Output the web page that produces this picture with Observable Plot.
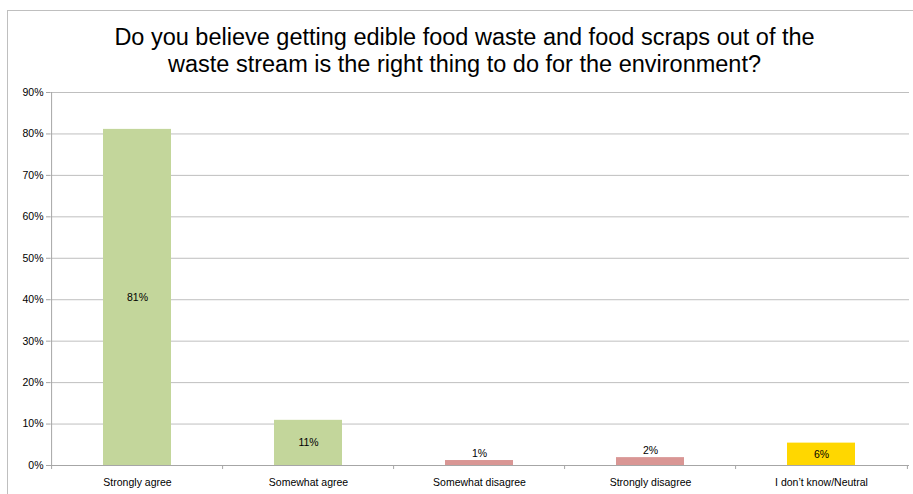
<!DOCTYPE html>
<html>
<head>
<meta charset="utf-8">
<script src="https://cdn.jsdelivr.net/npm/d3@7"></script>
<script src="https://cdn.jsdelivr.net/npm/@observablehq/plot@0.6"></script>
<style>
  html, body { margin: 0; padding: 0; background: #fff; }
  #wrap { position: relative; width: 913px; height: 494px; overflow: hidden; font-family: "Liberation Sans", Arial, sans-serif; }
  #border { position: absolute; left: 7px; top: 10px; width: 920px; height: 500px; border-left: 1px solid #bfbfbf; border-top: 1px solid #bfbfbf; box-sizing: border-box; }
  #title { position: absolute; left: 0; top: 24px; width: 929px; text-align: center; font-size: 23.5px; line-height: 26.5px; color: #000; white-space: nowrap; }
  #chart { position: absolute; left: 0; top: 0; }
</style>
</head>
<body>
<div id="wrap">
  <div id="border"></div>
  <div id="title">Do you believe getting edible food waste and food scraps out of the<br>waste stream is the right thing to do for the environment?</div>
  <div id="chart"></div>
</div>
<script>
const categories = ["Strongly agree", "Somewhat agree", "Somewhat disagree", "Strongly disagree", "I don\u2019t know/Neutral"];
const values = [0.811, 0.109, 0.012, 0.019, 0.054];
const valueLabels = ["81%", "11%", "1%", "2%", "6%"];
const labelPlacement = ["inside", "inside", "above", "above", "inside"];
const barColors = ["#C3D69B", "#C3D69B", "#D99694", "#D99694", "#FFD700"];
const yTicks = [0, 0.1, 0.2, 0.3, 0.4, 0.5, 0.6, 0.7, 0.8, 0.9];

const data = categories.map((c, i) => ({
  category: c, value: values[i], label: valueLabels[i], place: labelPlacement[i], color: barColors[i]
}));

const W = 913, H = 494;
const mLeft = 50, mRight = 4, mTop = 92, mBottom = 29;
const step = (W - mLeft - mRight) / categories.length;
const axisColor = "#A6A6A6";
const gridColor = "#BFBFBF";
const font = "Liberation Sans, Arial, sans-serif";

const chart = Plot.plot({
  width: W,
  height: H,
  marginLeft: mLeft,
  marginRight: mRight,
  marginTop: mTop,
  marginBottom: mBottom,
  style: { fontFamily: font, fontSize: "10.5px", color: "#000", background: "transparent", overflow: "visible" },
  x: { type: "band", domain: categories, paddingInner: 0.6, paddingOuter: 0.3, label: null },
  y: { domain: [0, 0.9], label: null },
  marks: [
    Plot.ruleY(yTicks.filter(d => d > 0), { stroke: gridColor, strokeWidth: 1 }),
    Plot.barY(data, { x: "category", y: "value", fill: "color" }),
    Plot.ruleX([categories[0]], { y1: -0.0097, y2: 0.9, dx: -step / 2, stroke: axisColor }),
    Plot.ruleX(categories.slice(1), { y1: -0.0097, y2: 0, dx: -step / 2, stroke: axisColor }),
    Plot.ruleX([categories[categories.length - 1]], { y1: -0.0097, y2: 0, dx: step / 2, stroke: axisColor }),
    Plot.ruleY([0], { stroke: axisColor }),
    Plot.axisY({ ticks: yTicks, tickFormat: d3.format(".0%"), tickSize: 4, stroke: axisColor, tickPadding: 3, fontSize: 10.5, fill: "#000" }),
    Plot.axisX({ tickSize: 0, tickPadding: 13, fontSize: 10.5, fill: "#000" }),
    Plot.text(data.filter(d => d.place === "inside"), { x: "category", y: d => d.value / 2, text: "label", fontSize: 10.5, fill: "#000" }),
    Plot.text(data.filter(d => d.place === "above"), { x: "category", y: "value", text: "label", dy: -7, fontSize: 10.5, fill: "#000" })
  ]
});
document.getElementById("chart").appendChild(chart);
</script>
</body>
</html>
